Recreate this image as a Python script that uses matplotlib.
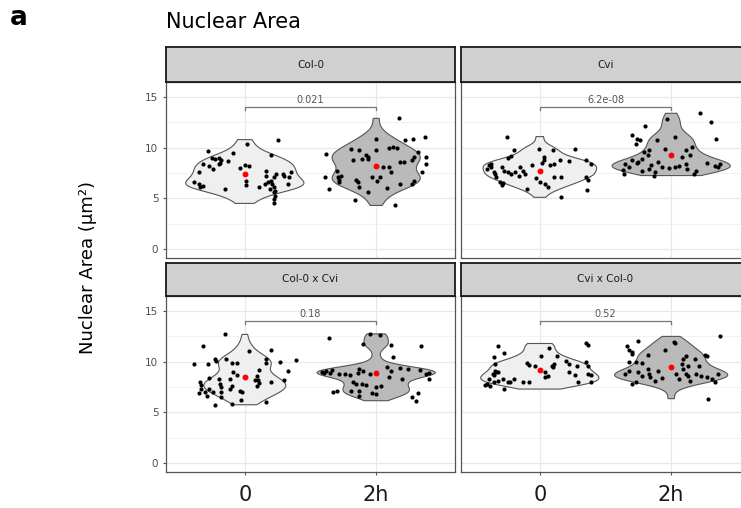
import numpy as np
import matplotlib.pyplot as plt

# facet names and p-values (Wilcoxon, 0 vs 2h)
facets = ['Col-0', 'Cvi', 'Col-0 x Cvi', 'Cvi x Col-0']
pvals = ['0.021', '6.2e-08', '0.18', '0.52']
times = ['0', '2h']

# nuclear area values (um^2) and horizontal jitter
col0_0_y = [10.4, 10.8, 9.65, 8.4, 9.0, 8.9, 9.0, 8.8, 8.5, 8.15, 7.9, 8.35, 8.7, 9.5, 7.6, 6.6,
            6.4, 6.2, 6.1, 5.9, 8.0, 8.25, 8.15, 6.75, 6.3, 6.1, 7.75, 7.25, 9.25, 7.1, 6.75, 6.4,
            6.1, 5.6, 5.25, 4.9, 4.5, 7.4, 7.4, 7.25, 7.6, 7.1, 6.4, 6.4, 6.6, 5.9, 5.75]
col0_0_dx = [0.02, 0.25, -0.28, -0.32, -0.25, -0.23, -0.2, -0.18, -0.19, -0.27, -0.24, -0.2, -0.13,
             -0.09, -0.35, -0.39, -0.35, -0.32, -0.34, -0.15, -0.04, 0.0, 0.03, 0.01, 0.01, 0.11,
             0.16, 0.16, 0.2, 0.22, 0.2, 0.21, 0.22, 0.22, 0.23, 0.22, 0.22, 0.24, 0.29, 0.3, 0.35,
             0.34, 0.33, 0.15, 0.18, 0.19, 0.23]
col0_2h_y = [12.9, 10.9, 10.75, 10.9, 11.1, 9.9, 9.75, 9.75, 10.0, 10.1, 10.0, 9.4, 9.25, 9.1, 8.9,
             8.9, 8.75, 8.1, 8.1, 7.6, 8.6, 8.75, 9.1, 9.6, 9.1, 8.4, 7.6, 6.75, 6.4, 7.1, 5.9, 7.75,
             7.1, 6.6, 6.8, 6.8, 6.6, 5.6, 7.15, 6.75, 7.15, 6.0, 6.4, 4.3, 4.85, 6.1, 8.6, 7.25]
col0_2h_dx = [0.17, 0.0, 0.22, 0.28, 0.37, -0.19, -0.13, 0.0, 0.1, 0.13, 0.16, -0.38, -0.08, -0.06,
              -0.06, -0.11, -0.18, 0.05, 0.1, 0.11, 0.18, 0.27, 0.29, 0.32, 0.38, 0.38, 0.35, 0.29,
              0.27, -0.39, -0.36, -0.3, -0.29, -0.28, -0.28, -0.15, -0.14, -0.06, -0.03, 0.01, 0.03,
              0.08, 0.18, 0.14, -0.16, -0.13, 0.21, -0.27]
cvi_0_y = [11.1, 9.75, 9.9, 9.8, 9.9, 9.0, 9.15, 9.1, 8.75, 8.5, 8.25, 8.4, 8.75, 8.7, 8.8, 8.35,
           8.25, 7.9, 8.1, 7.6, 8.1, 7.75, 7.6, 7.4, 7.6, 7.25, 7.75, 7.4, 7.1, 6.6, 6.35, 6.5, 7.4,
           7.1, 7.1, 6.6, 6.4, 6.1, 5.9, 5.1, 7.1, 6.8, 5.8, 8.25, 8.1, 7.0, 8.4]
cvi_0_dx = [-0.25, -0.2, -0.01, 0.1, 0.27, -0.24, -0.22, 0.03, 0.03, 0.02, 0.08, 0.11, 0.15, 0.22,
            0.35, 0.39, -0.39, -0.4, -0.37, -0.35, -0.29, -0.27, -0.24, -0.22, -0.19, -0.16, -0.13,
            -0.11, -0.33, -0.3, -0.29, -0.28, -0.34, 0.11, 0.16, 0.0, 0.04, 0.06, -0.1, 0.16, 0.35,
            0.37, 0.36, -0.06, -0.15, -0.03, -0.37]
cvi_2h_y = [13.4, 12.5, 10.9, 12.8, 12.1, 11.3, 10.9, 10.75, 10.4, 10.75, 11.1, 9.8, 9.6, 9.25, 8.9,
            8.75, 8.5, 8.4, 7.8, 7.4, 9.9, 9.75, 10.1, 9.25, 9.1, 8.6, 8.25, 7.9, 7.6, 8.1, 8.0, 8.1,
            8.15, 8.4, 7.9, 8.5, 8.15, 8.4, 8.1, 7.4, 7.25, 8.1, 8.6, 7.75, 7.75]
cvi_2h_dx = [0.22, 0.3, 0.34, -0.03, -0.2, -0.3, -0.26, -0.24, -0.27, -0.11, 0.03, -0.17, -0.21,
             -0.18, -0.22, -0.3, -0.26, -0.35, -0.37, -0.36, -0.05, 0.11, 0.16, 0.14, 0.08, -0.1,
             -0.15, -0.17, -0.12, -0.07, -0.02, 0.03, 0.06, 0.11, 0.12, 0.27, 0.33, 0.37, 0.36, 0.17,
             -0.13, -0.32, -0.25, 0.19, -0.22]
cc_0_y = [12.7, 11.6, 11.05, 11.2, 9.8, 9.8, 10.3, 10.05, 10.3, 9.85, 9.9, 10.3, 9.9, 10.0, 10.15,
          9.1, 8.2, 7.95, 7.95, 7.7, 8.4, 8.25, 7.8, 8.25, 7.65, 7.3, 8.6, 8.15, 8.15, 7.85, 7.6, 7.3,
          7.05, 6.9, 7.3, 7.5, 7.0, 7.15, 7.0, 5.75, 5.8, 6.25, 6.05, 7.0, 9.0, 8.65, 6.5, 9.15, 6.65]
cc_0_dx = [-0.15, -0.32, 0.03, 0.2, -0.39, -0.28, -0.23, -0.22, -0.14, -0.1, -0.06, 0.16, 0.16, 0.27,
           0.39, 0.33, 0.3, 0.2, -0.34, -0.33, -0.27, -0.2, -0.19, -0.11, -0.1, -0.11, 0.09, 0.1,
           0.08, 0.11, 0.09, -0.27, -0.24, -0.35, -0.33, -0.18, -0.18, -0.04, -0.02, -0.23, -0.1,
           -0.03, 0.16, -0.3, -0.09, -0.06, -0.18, 0.11, -0.29]
cc_2h_y = [12.35, 12.75, 12.6, 11.75, 11.7, 11.6, 10.45, 9.0, 8.9, 9.05, 8.9, 9.15, 9.25, 8.9, 9.05,
           9.5, 9.05, 9.4, 9.3, 9.15, 8.8, 8.9, 8.3, 8.8, 8.65, 8.0, 7.8, 7.8, 7.7, 7.05, 7.15, 7.15,
           7.15, 6.9, 6.8, 6.6, 7.5, 8.5, 8.25, 6.55, 6.15, 6.9, 8.8, 7.65, 8.8]
cc_2h_dx = [-0.36, -0.05, 0.03, -0.1, 0.11, 0.34, 0.13, -0.41, -0.4, -0.38, -0.35, -0.34, -0.13,
            -0.14, -0.1, 0.08, 0.11, 0.18, 0.24, 0.33, 0.38, 0.4, 0.4, -0.28, -0.2, -0.18, -0.15,
            -0.11, -0.08, -0.33, -0.3, -0.19, -0.13, -0.03, 0.0, -0.13, 0.0, 0.1, 0.2, 0.27, 0.3,
            0.32, -0.05, 0.04, -0.24]
vc_0_y = [11.6, 10.85, 10.5, 9.8, 9.1, 8.95, 8.8, 8.95, 8.7, 8.3, 7.8, 7.6, 7.95, 8.1, 8.3, 7.3, 8.0,
          7.95, 8.3, 9.9, 9.7, 9.6, 10.6, 11.35, 10.55, 8.95, 8.45, 8.6, 9.6, 9.8, 9.45, 10.1, 8.95,
          8.7, 8.0, 11.8, 11.7, 9.95, 9.6, 8.8, 8.7, 8.0, 8.0, 7.95, 7.7, 9.8, 9.6]
vc_0_dx = [-0.32, -0.27, -0.35, -0.34, -0.34, -0.33, -0.36, -0.32, -0.35, -0.39, -0.4, -0.38, -0.35,
           -0.32, -0.28, -0.27, -0.24, -0.23, -0.2, -0.1, -0.08, -0.04, 0.01, 0.07, 0.13, 0.04, 0.04,
           0.06, 0.09, 0.11, 0.1, 0.2, 0.22, 0.27, 0.29, 0.35, 0.37, 0.35, 0.37, 0.37, 0.39, 0.39,
           -0.13, -0.08, -0.42, 0.22, 0.28]
vc_2h_y = [12.5, 12.0, 11.6, 11.2, 10.95, 10.8, 11.8, 11.9, 11.2, 10.7, 9.95, 9.95, 9.9, 9.3, 8.8,
           8.45, 8.95, 8.6, 9.1, 8.8, 10.6, 10.3, 9.8, 9.3, 8.8, 8.6, 10.3, 9.6, 10.7, 10.6, 8.8, 8.6,
           8.45, 8.3, 7.95, 8.8, 8.35, 8.1, 9.1, 8.8, 8.3, 8.0, 7.8, 6.35, 9.6, 8.1]
vc_2h_dx = [0.37, -0.25, -0.34, -0.32, -0.3, -0.3, 0.03, 0.02, -0.05, -0.18, -0.32, -0.27, -0.22,
            -0.18, -0.17, -0.16, -0.25, -0.22, -0.32, -0.35, 0.11, 0.09, 0.08, 0.09, 0.11, 0.13, 0.18,
            0.21, 0.26, 0.27, 0.19, 0.23, 0.27, 0.31, 0.33, 0.36, -0.07, -0.12, -0.1, 0.04, 0.06,
            -0.27, -0.3, 0.28, 0.13, 0.14]

# group means (red dots)
means = [[7.4, 8.15], [7.7, 9.3], [8.45, 8.9], [9.2, 9.45]]

data_y = [[col0_0_y, col0_2h_y], [cvi_0_y, cvi_2h_y], [cc_0_y, cc_2h_y], [vc_0_y, vc_2h_y]]
data_dx = [[col0_0_dx, col0_2h_dx], [cvi_0_dx, cvi_2h_dx], [cc_0_dx, cc_2h_dx], [vc_0_dx, vc_2h_dx]]

fills = ['#efefef', '#bababa']


def kde(vals, grid):
    vals = np.asarray(vals)
    q75, q25 = np.percentile(vals, [75, 25])
    bw = 0.9 * min(vals.std(ddof=1), (q75 - q25) / 1.34) * len(vals) ** -0.2
    z = (grid[:, None] - vals[None, :]) / bw
    return np.exp(-0.5 * z ** 2).sum(axis=1) / (len(vals) * bw * np.sqrt(2 * np.pi))


fig = plt.figure(figsize=(7.41, 5.08), dpi=100)
W, H = 741.0, 508.0
# panel boxes in pixels: left, top of plot area
lefts = [166, 461]
plot_tops = [82, 296]
strip_tops = [47, 263]
pw, ph = 289, 176

for i, name in enumerate(facets):
    r, c = divmod(i, 2)
    l = lefts[c]
    ax = fig.add_axes([l / W, 1 - (plot_tops[r] + ph) / H, pw / W, ph / H])
    sax = fig.add_axes([l / W, 1 - plot_tops[r] / H, pw / W, (plot_tops[r] - strip_tops[r]) / H])

    # strip
    sax.set_facecolor('#d0d0d0')
    sax.set_xticks([])
    sax.set_yticks([])
    for s in sax.spines.values():
        s.set_color('#1a1a1a')
        s.set_linewidth(1.3)
    sax.text(0.5, 0.5, name, ha='center', va='center', fontsize=7.5, color='#1a1a1a',
             transform=sax.transAxes)

    ax.set_xlim(0.4, 2.6)
    ax.set_ylim(-0.89, 16.49)
    ax.set_yticks([0, 5, 10, 15])
    ax.set_yticks([2.5, 7.5, 12.5], minor=True)
    ax.set_xticks([1, 2])
    ax.grid(True, which='major', color='#e8e8e8', lw=0.9)
    ax.grid(True, which='minor', axis='y', color='#f0f0f0', lw=0.6)
    ax.set_axisbelow(True)
    for s in ax.spines.values():
        s.set_color('#555555')
        s.set_linewidth(0.9)
    ax.tick_params(which='minor', length=0)
    ax.tick_params(axis='y', length=2.5, color='#555555', labelsize=7.5, labelcolor='#4d4d4d', pad=3)
    ax.tick_params(axis='x', length=2.5, color='#555555', labelsize=15, labelcolor='#1a1a1a', pad=7)
    if c == 1:
        ax.set_yticklabels([])
        ax.tick_params(axis='y', length=0)
    if r == 0:
        ax.set_xticklabels([])
        ax.tick_params(axis='x', length=0)
    else:
        ax.set_xticklabels(times)

    # violins, scaled per panel (ggplot scale = "area")
    grids, dens = [], []
    for g in range(2):
        yv = np.asarray(data_y[i][g])
        grid = np.linspace(yv.min(), yv.max(), 256)
        grids.append(grid)
        dens.append(kde(yv, grid))
    dmax = max(d.max() for d in dens)
    for g in range(2):
        hw = 0.45 * dens[g] / dmax
        xs = np.concatenate([g + 1 - hw, (g + 1 + hw)[::-1]])
        ys = np.concatenate([grids[g], grids[g][::-1]])
        ax.fill(xs, ys, facecolor=fills[g], edgecolor='#555555', lw=0.8, zorder=2)

        px = g + 1 + np.asarray(data_dx[i][g])
        ax.scatter(px, data_y[i][g], s=9, color='black', zorder=3, linewidths=0)
        ax.scatter([g + 1], [means[i][g]], s=18, color='red', zorder=4, linewidths=0)

    # comparison bracket
    ax.plot([1, 1, 2, 2], [13.7, 14.05, 14.05, 13.7], color='#777777', lw=0.9, zorder=3)
    ax.text(1.5, 14.2, pvals[i], ha='center', va='bottom', fontsize=7, color='#555555', zorder=3)

fig.text(166 / W, 1 - 22 / H, 'Nuclear Area', fontsize=15, va='center', ha='left')
fig.text(10 / W, 1 - 18 / H, 'a', fontsize=19, fontweight='bold', va='center', ha='left')
fig.text(88 / W, 1 - 268 / H, 'Nuclear Area (\u03bcm\u00b2)', fontsize=13, rotation=90,
         va='center', ha='center')

fig.savefig('out.png', dpi=100)
